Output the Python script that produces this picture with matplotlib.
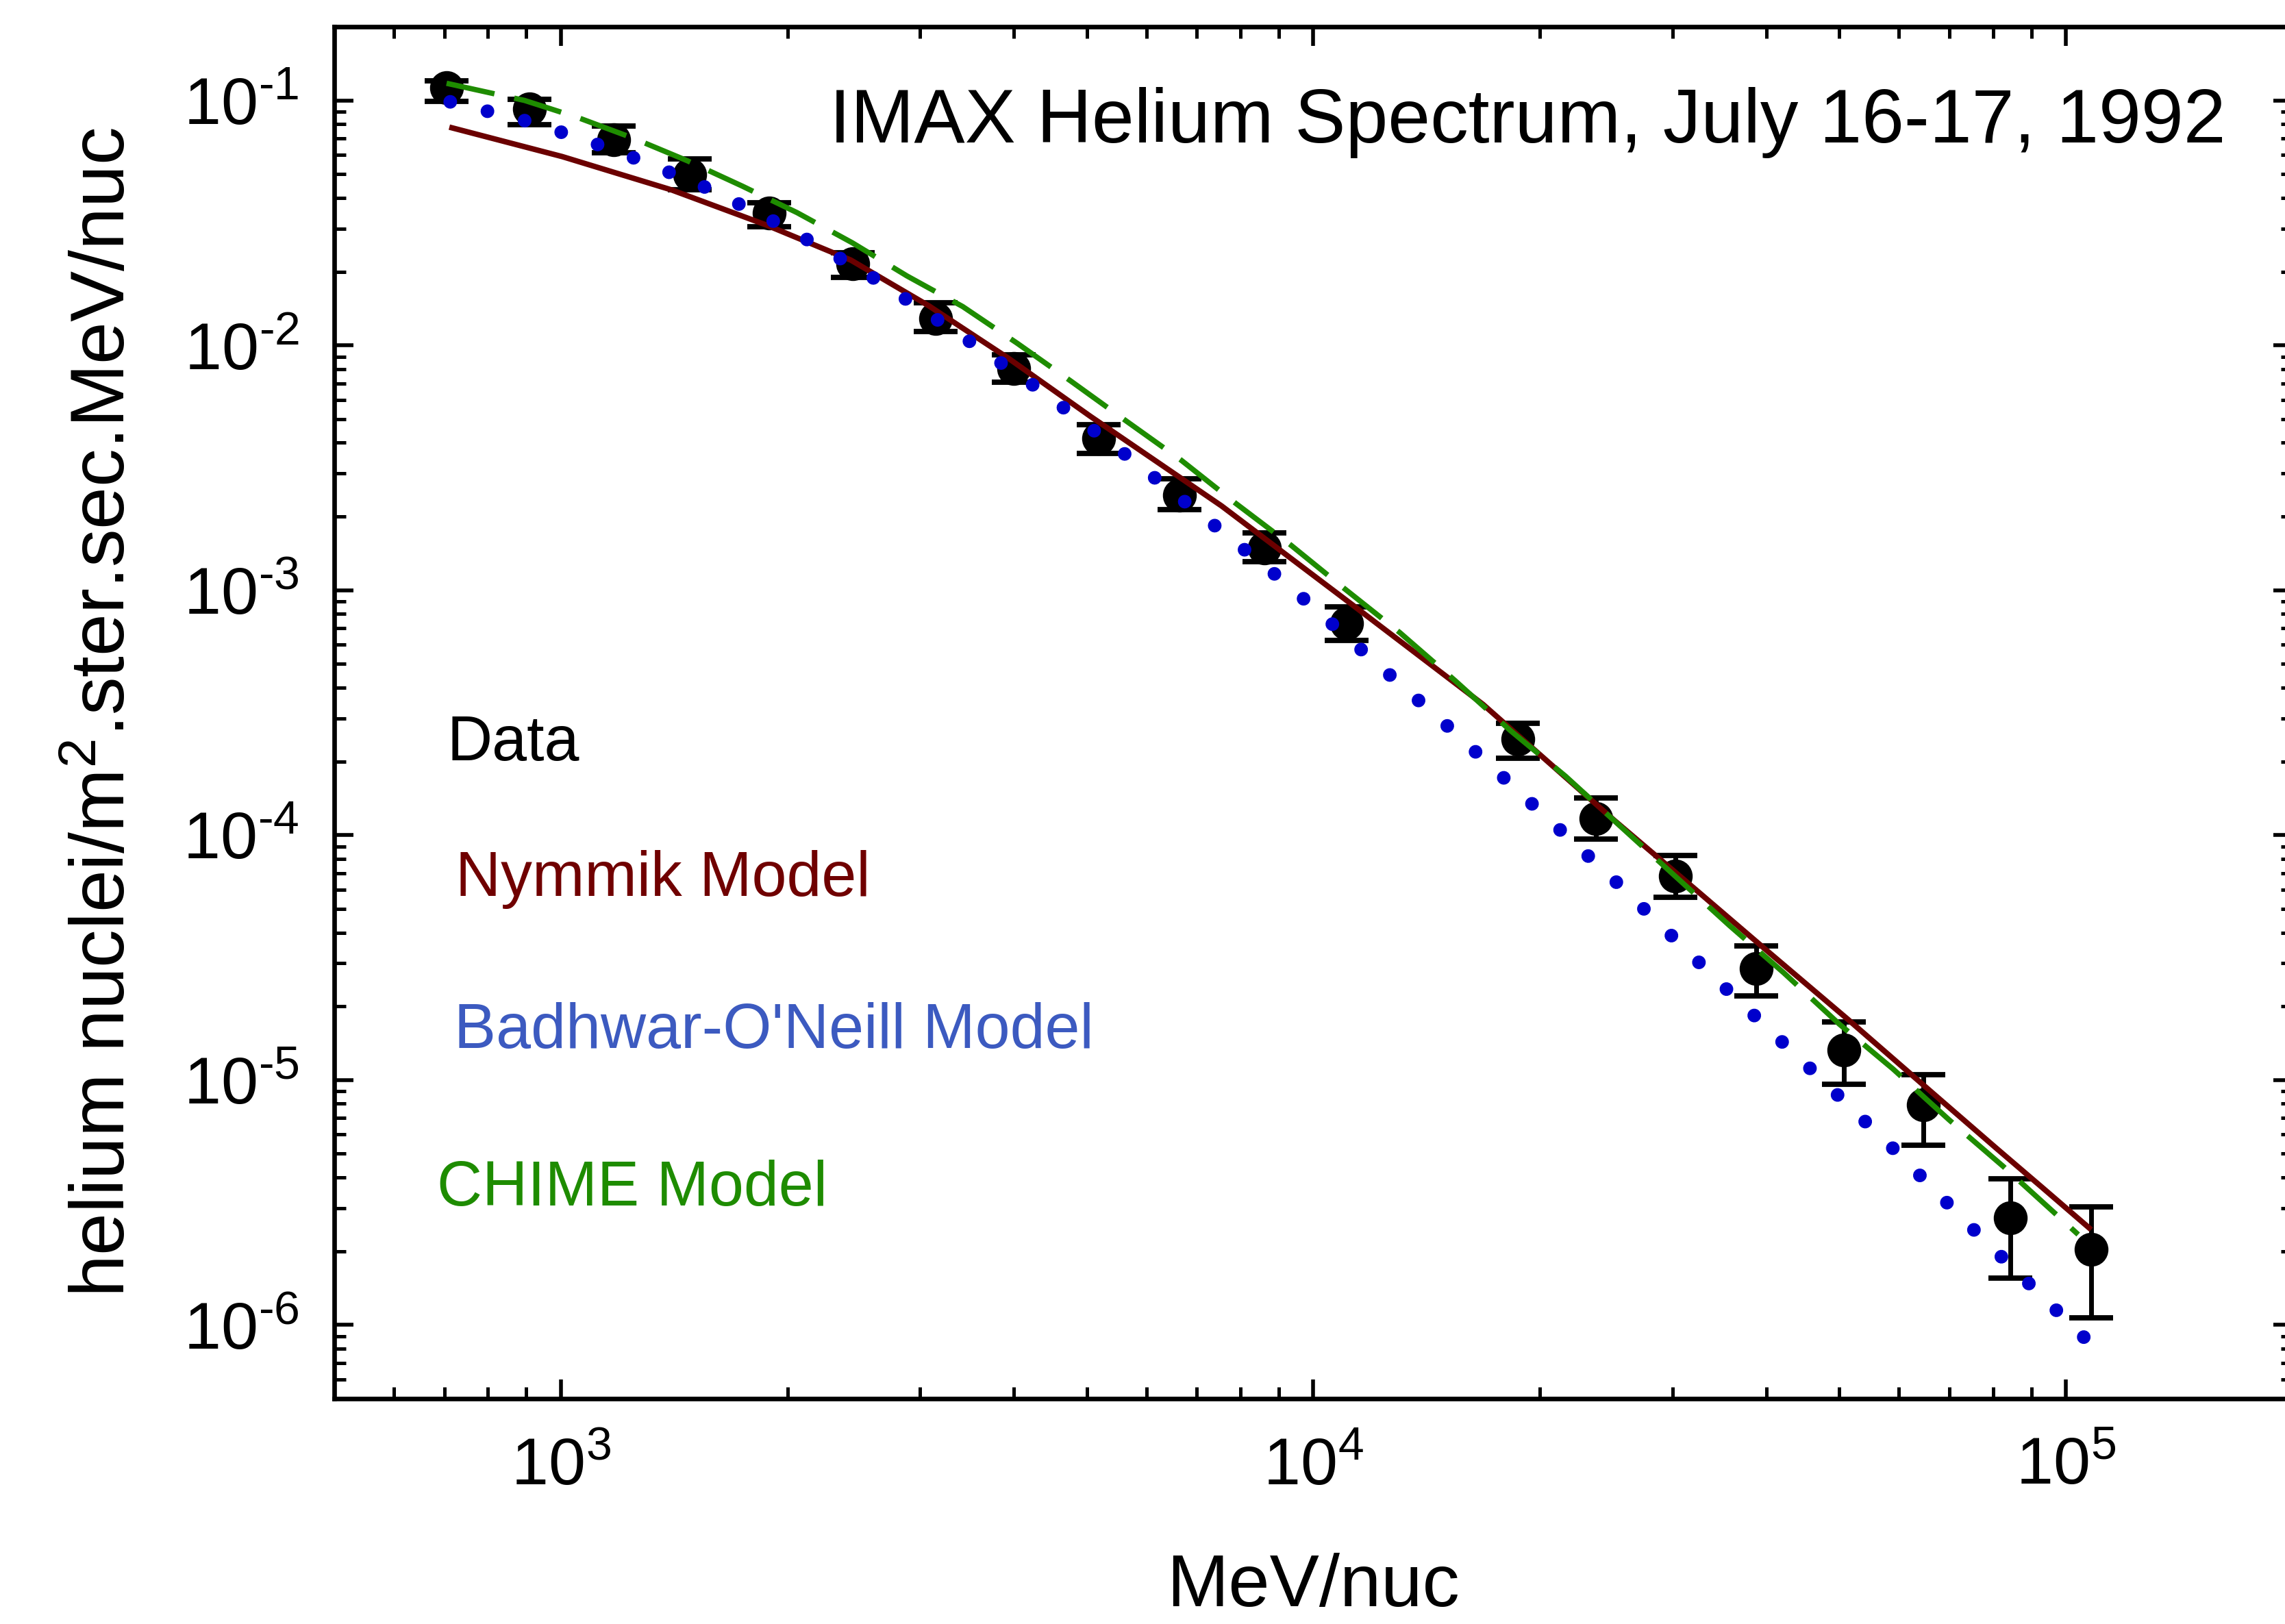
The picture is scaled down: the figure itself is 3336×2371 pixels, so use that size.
import numpy as np
import matplotlib
matplotlib.use("Agg")
import matplotlib.pyplot as plt
from matplotlib.ticker import LogLocator, FuncFormatter, NullFormatter

plt.rcParams['font.family'] = ['Liberation Sans', 'DejaVu Sans']
plt.rcParams['mathtext.fontset'] = 'custom'
plt.rcParams['mathtext.rm'] = 'Liberation Sans'
plt.rcParams['mathtext.it'] = 'Liberation Sans:italic'
plt.rcParams['mathtext.bf'] = 'Liberation Sans:bold'
plt.rcParams['axes.unicode_minus'] = False

# ---------------- data ----------------
data_E = [705, 908, 1175, 1483, 1892, 2443, 3148, 4000, 5180, 6640, 8610,
          11070, 18700, 23750, 30300, 38800, 50700, 64700, 84400, 108000]
data_flux = [0.113, 0.0925, 0.0693, 0.0499, 0.0347, 0.0216, 0.0129, 0.00802,
             0.00418, 0.00245, 0.00149, 7.31e-4, 2.46e-4, 1.17e-4, 6.82e-5,
             2.86e-5, 1.33e-5, 7.91e-6, 2.73e-6, 2.04e-6]
data_lo = [0.0994, 0.0798, 0.0612, 0.0431, 0.0306, 0.0190, 0.0114, 0.00705,
           0.00363, 0.00213, 0.00131, 6.25e-4, 2.06e-4, 9.62e-5, 5.56e-5,
           2.20e-5, 9.64e-6, 5.43e-6, 1.55e-6, 1.07e-6]
data_hi = [0.120, 0.101, 0.0788, 0.0578, 0.0383, 0.0239, 0.0149, 0.00912,
           0.00475, 0.00286, 0.00171, 8.53e-4, 2.87e-4, 1.42e-4, 8.24e-5,
           3.52e-5, 1.73e-5, 1.05e-5, 3.94e-6, 3.03e-6]

nymmik_E = [711, 1004, 1404, 1875, 2428, 3083, 3926, 5050, 7550, 11250,
            16800, 25100, 32400, 40400, 51300, 65800, 80900, 92900, 108000]
nymmik_flux = [0.0778, 0.0590, 0.0431, 0.0310, 0.0223, 0.0145, 0.00889,
               0.00514, 0.00221, 8.75e-4, 3.42e-4, 1.15e-4, 5.9e-5,
               3.3e-5, 1.77e-5, 9.1e-6, 5.25e-6, 3.65e-6, 2.45e-6]

badhwar_E = [713, 921, 1188, 1537, 1987, 2565, 3318, 4287, 5510, 7100, 9190,
             11800, 15270, 19740, 25470, 35650, 45920, 59400, 76000, 97900,
             106500]
badhwar_flux = [0.0987, 0.0809, 0.0621, 0.0450, 0.0304, 0.0194, 0.01157,
                0.00673, 0.00377, 0.00203, 0.00107, 5.43e-4, 2.69e-4,
                1.30e-4, 6.28e-5, 2.30e-5, 1.10e-5, 5.13e-6, 2.39e-6,
                1.12e-6, 8.69e-7]

chime_E = [705, 895, 1054, 1247, 1473, 1742, 2061, 2441, 2884, 3420, 4040,
           4766, 5640, 6670, 7890, 9330, 11020, 13030, 15420, 18280, 21630,
           25470, 35730, 42170, 50000, 58900, 70000, 82600, 97500, 103800]
chime_flux = [0.1175, 0.100, 0.0851, 0.0702, 0.0567, 0.0447, 0.0348, 0.0262,
              0.0192, 0.0144, 0.0102, 0.00713, 0.00491, 0.00340, 0.00226,
              0.00153, 0.00101, 6.71e-4, 4.28e-4, 2.67e-4, 1.74e-4, 1.10e-4,
              4.27e-5, 2.74e-5, 1.69e-5, 1.11e-5, 6.86e-6, 4.43e-6, 2.79e-6,
              2.34e-6]

title_text = "IMAX Helium Spectrum, July 16-17, 1992"
legend_labels = ["Data", "Nymmik Model", "Badhwar-O'Neill Model", "CHIME Model"]
xlabel_text = "MeV/nuc"
ylabel_text = r"helium nuclei/m$^{\mathregular{2}}$.ster.sec.MeV/nuc"

# ---------------- styles ----------------
c_nym_line = '#6B0000'
c_nym_text = '#700000'
c_bad_line = '#0000CC'
c_bad_text = '#3C5AC0'
c_chi = '#1E8C00'

W, H, DPI = 3337, 2371, 200
fig = plt.figure(figsize=(W / DPI, H / DPI), dpi=DPI, facecolor='white')
ax = fig.add_axes([488 / W, 1 - 2042 / H, (3347 - 488) / W, (2042 - 39) / H])

x = np.array(data_E, float)
y = np.array(data_flux, float)
yerr = [y - np.array(data_lo), np.array(data_hi) - y]
ax.errorbar(x, y, yerr=yerr, fmt='o', color='black', ms=16.8, capsize=11.5,
            capthick=2.8, elinewidth=2.5, zorder=2)

ax.plot(nymmik_E, nymmik_flux, color=c_nym_line, lw=2.9, zorder=3,
        solid_capstyle='butt', solid_joinstyle='round')
ax.plot(chime_E, chime_flux, color=c_chi, lw=2.8, linestyle=(0, (9.2, 3.8)),
        dash_capstyle='butt', zorder=4)
ax.plot(badhwar_E, badhwar_flux, color=c_bad_line, lw=7.2,
        linestyle=(0, (0.001, 2.8)), dash_capstyle='round', zorder=5)

ax.set_xscale('log')
ax.set_yscale('log')
ax.set_xlim(500, 2e5)
ax.set_ylim(5e-7, 0.2)

for sp in ax.spines.values():
    sp.set_linewidth(2.4)


def decade_label(v, pos):
    e = int(round(np.log10(v)))
    s = str(abs(e))
    if e < 0:
        s = '\u2010' + s
    return r'$\mathregular{10^{%s}}$' % s


ax.xaxis.set_major_locator(LogLocator(base=10, numticks=20))
ax.xaxis.set_minor_locator(LogLocator(base=10, subs=np.arange(2, 10), numticks=20))
ax.yaxis.set_major_locator(LogLocator(base=10, numticks=20))
ax.yaxis.set_minor_locator(LogLocator(base=10, subs=np.arange(2, 10), numticks=20))
ax.xaxis.set_major_formatter(FuncFormatter(decade_label))
ax.yaxis.set_major_formatter(FuncFormatter(decade_label))
ax.xaxis.set_minor_formatter(NullFormatter())
ax.yaxis.set_minor_formatter(NullFormatter())

ax.tick_params(which='both', direction='in', top=True, right=True)
ax.tick_params(which='major', length=10, width=2.0, labelsize=35)
ax.tick_params(which='minor', length=6, width=1.8)
ax.tick_params(axis='x', which='major', pad=20)
ax.tick_params(axis='y', which='major', pad=18.5)

ax.set_xlabel(xlabel_text, fontsize=39, va='baseline')
ax.xaxis.set_label_coords(0.5, (2042 - 2345) / 2003)
ax.set_ylabel(ylabel_text, fontsize=40, va='baseline')
ax.yaxis.set_label_coords((182 - 488) / 2859, 0.5)

ax.text((2230 - 488) / 2859, (2042 - 208) / 2003, title_text, fontsize=40,
        ha='center', va='baseline', transform=ax.transAxes, color='black')

legend_pos = [(653, 1110), (665, 1308), (663, 1530), (638, 1760)]
legend_cols = ['black', c_nym_text, c_bad_text, c_chi]
for (px, py), lab, col in zip(legend_pos, legend_labels, legend_cols):
    ax.text((px - 488) / 2859, (2042 - py) / 2003, lab, fontsize=33,
            ha='left', va='baseline', transform=ax.transAxes, color=col)

fig.savefig('out.png', dpi=DPI, facecolor='white')
